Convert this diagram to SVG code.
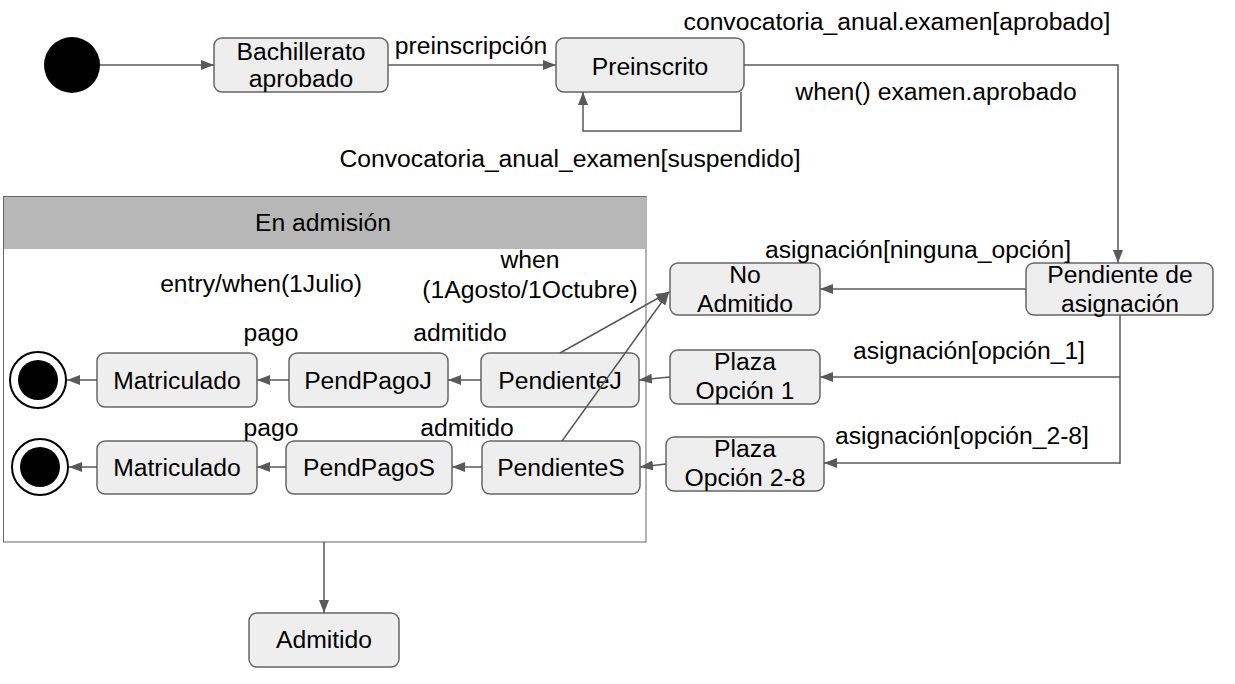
<svg xmlns="http://www.w3.org/2000/svg" width="1235" height="684" viewBox="0 0 1235 684">
<style>
text{font-family:"Liberation Sans",Arial,sans-serif;font-size:24.7px;fill:#000;text-anchor:middle}
.box{fill:#eeeeee;stroke:#666;stroke-width:1.5}
.ln{fill:none;stroke:#595959;stroke-width:1.5}
.arr{marker-end:url(#ah)}
</style>
<defs>
<marker id="ah" markerUnits="userSpaceOnUse" markerWidth="14" markerHeight="10" refX="13" refY="5" orient="auto">
<path d="M0,0 L13,5 L0,10 z" fill="#595959"/>
</marker>
</defs>
<rect width="1235" height="684" fill="#fff"/>

<g id="container">
<rect x="3.5" y="196.5" width="642.5" height="345.5" fill="#fff" stroke="#666" stroke-width="1"/>
<rect x="4" y="197" width="642" height="52" fill="#b7b7b7"/>
<text x="323" y="231">En admisión</text>
<text x="261" y="292">entry/when(1Julio)</text>
</g>

<g id="initial"><circle cx="72" cy="65" r="28" fill="#000"/></g>
<g id="bachillerato"><rect class="box" x="214" y="38" width="174" height="54" rx="8"/><text x="301" y="60">Bachillerato</text><text x="301" y="87">aprobado</text></g>
<g id="preinscrito"><rect class="box" x="556" y="38" width="188" height="54" rx="8"/><text x="650" y="75">Preinscrito</text></g>
<g id="pendiente-asignacion"><rect class="box" x="1026" y="263" width="187" height="52" rx="8"/><text x="1120" y="283">Pendiente de</text><text x="1120" y="312">asignación</text></g>
<g id="no-admitido"><rect class="box" x="670" y="263" width="150" height="52" rx="8"/><text x="745" y="283">No</text><text x="745" y="312">Admitido</text></g>
<g id="plaza1"><rect class="box" x="670" y="350" width="150" height="54" rx="8"/><text x="745" y="370">Plaza</text><text x="745" y="399">Opción 1</text></g>
<g id="plaza28"><rect class="box" x="666" y="437" width="158" height="54" rx="8"/><text x="745" y="457">Plaza</text><text x="745" y="486">Opción 2-8</text></g>
<g id="pendienteJ"><rect class="box" x="481" y="353" width="158" height="54" rx="8"/><text x="560" y="389">PendienteJ</text></g>
<g id="pendpagoJ"><rect class="box" x="289" y="353" width="159" height="54" rx="8"/><text x="368" y="389">PendPagoJ</text></g>
<g id="matriculadoJ"><rect class="box" x="97" y="353" width="160" height="54" rx="8"/><text x="177" y="389">Matriculado</text></g>
<g id="finalJ"><circle cx="38" cy="380" r="28" fill="#fff" stroke="#000" stroke-width="2"/><circle cx="38" cy="380" r="20" fill="#000"/></g>
<g id="pendienteS"><rect class="box" x="482" y="441" width="158" height="53" rx="8"/><text x="561" y="476">PendienteS</text></g>
<g id="pendpagoS"><rect class="box" x="286" y="441" width="166" height="53" rx="8"/><text x="369" y="476">PendPagoS</text></g>
<g id="matriculadoS"><rect class="box" x="97" y="441" width="160" height="53" rx="8"/><text x="177" y="476">Matriculado</text></g>
<g id="finalS"><circle cx="40" cy="467" r="28" fill="#fff" stroke="#000" stroke-width="2"/><circle cx="40" cy="467" r="20" fill="#000"/></g>
<g id="admitido"><rect class="box" x="249" y="613" width="150" height="54" rx="8"/><text x="324" y="648">Admitido</text></g>

<g id="connectors">
<path class="ln arr" d="M100,65 H214"/>
<path class="ln arr" d="M388,65 H556"/>
<path class="ln arr" d="M741,92 V131 H583 V92"/>
<path class="ln arr" d="M744,65 H1118 V263"/>
<path class="ln arr" d="M1026,289 H820"/>
<path class="ln" d="M1120,315 V464"/>
<path class="ln arr" d="M1120,377 H820"/>
<path class="ln arr" d="M1120,463 H824"/>
<path class="ln arr" d="M670,377 L639,380"/>
<path class="ln arr" d="M666,464 L640,467"/>
<path class="ln arr" d="M481,380 H448"/>
<path class="ln arr" d="M289,380 H257"/>
<path class="ln arr" d="M97,380 H67"/>
<path class="ln arr" d="M482,467 H452"/>
<path class="ln arr" d="M286,467 H257"/>
<path class="ln arr" d="M97,467 H69"/>
<path class="ln arr" d="M560,353 L669,292"/>
<path class="ln arr" d="M562,441 L669,292"/>
<path class="ln arr" d="M324,542 V613"/>
</g>

<g id="labels">
<text x="471" y="54">preinscripción</text>
<text x="897" y="30">convocatoria_anual.examen[aprobado]</text>
<text x="936" y="100">when() examen.aprobado</text>
<text x="570" y="167">Convocatoria_anual_examen[suspendido]</text>
<text x="918" y="258">asignación[ninguna_opción]</text>
<text x="969" y="359">asignación[opción_1]</text>
<text x="962" y="444">asignación[opción_2-8]</text>
<text x="530" y="268">when</text>
<text x="530" y="298">(1Agosto/1Octubre)</text>
<text x="271" y="341">pago</text>
<text x="460" y="341">admitido</text>
<text x="271" y="436">pago</text>
<text x="467" y="436">admitido</text>
</g>
</svg>
